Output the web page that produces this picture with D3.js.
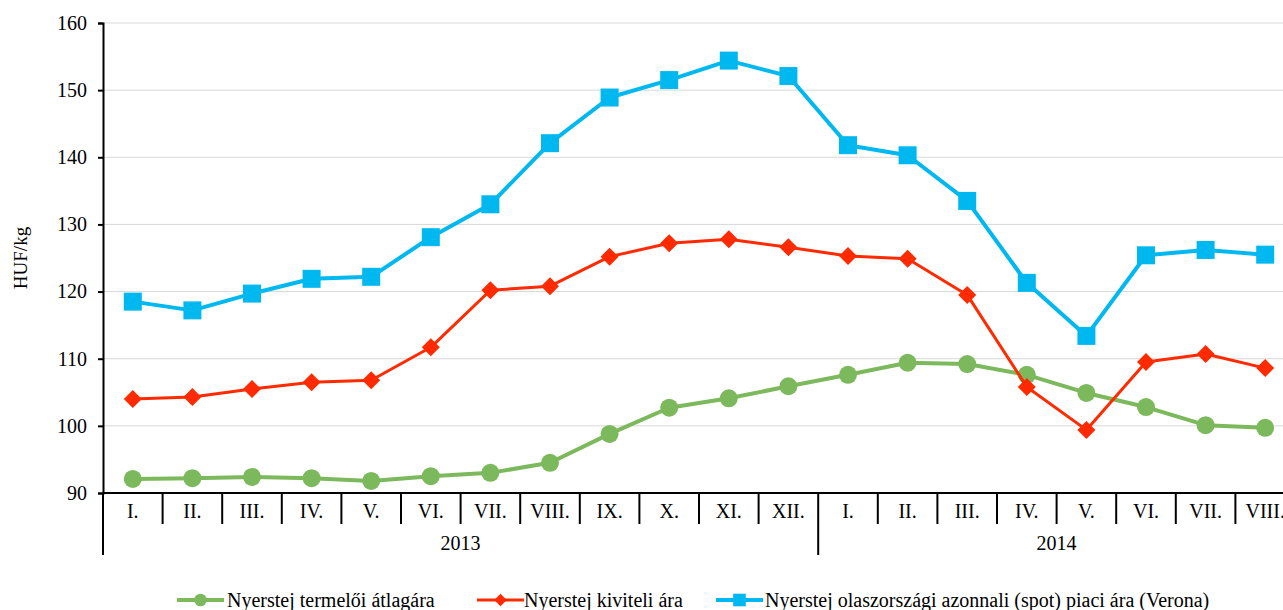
<!DOCTYPE html>
<html>
<head>
<meta charset="utf-8">
<script src="https://cdn.jsdelivr.net/npm/d3@7"></script>
<style>
  body { margin: 0; background: #fff; overflow: hidden; }
  svg text { font-family: "Liberation Serif", "DejaVu Serif", serif; fill: #000; }
</style>
</head>
<body>
<div id="chart"></div>
<script>
// Chart data
const months = ['I.', 'II.', 'III.', 'IV.', 'V.', 'VI.', 'VII.', 'VIII.', 'IX.', 'X.', 'XI.', 'XII.',
                'I.', 'II.', 'III.', 'IV.', 'V.', 'VI.', 'VII.', 'VIII.'];
const years = [{ label: '2013', count: 12 }, { label: '2014', count: 8 }];
const producerPrice = [92.1, 92.2, 92.4, 92.2, 91.8, 92.5, 93.0, 94.5, 98.8, 102.7, 104.1, 105.9,
                       107.6, 109.4, 109.2, 107.6, 104.9, 102.8, 100.1, 99.7];
const exportPrice = [104.0, 104.3, 105.5, 106.5, 106.8, 111.7, 120.2, 120.8, 125.2, 127.2, 127.8, 126.6,
                     125.3, 124.9, 119.5, 105.8, 99.4, 109.5, 110.7, 108.6];
const veronaPrice = [118.5, 117.2, 119.7, 121.9, 122.2, 128.1, 133.0, 142.1, 148.9, 151.5, 154.4, 152.1,
                     141.8, 140.3, 133.5, 121.3, 113.4, 125.4, 126.2, 125.5];
const yTicks = [90, 100, 110, 120, 130, 140, 150, 160];

const width = 1283;
const height = 610;
const serif = '"Liberation Serif", "DejaVu Serif", serif';
const margin = { left: 103, top: 23, bottom: 117 };
const plotRight = 1295; // last category runs past the visible edge

const svg = d3.select('#chart')
    .append('svg')
    .attr('width', width)
    .attr('height', height)
    .attr('font-family', serif);

// Scales
const x = d3.scaleBand()
    .domain(d3.range(months.length))
    .range([margin.left, plotRight]);

const y = d3.scaleLinear()
    .domain([90, 160])
    .range([height - margin.bottom, margin.top]);

const baseY = y(90);

// Gridlines
svg.append('g')
    .selectAll('line')
    .data(yTicks.slice(1))
    .enter()
    .append('line')
    .attr('x1', margin.left)
    .attr('x2', plotRight)
    .attr('y1', d => y(d))
    .attr('y2', d => y(d))
    .attr('stroke', '#d9d9d9')
    .attr('stroke-width', 1);

// Y axis
const yAxis = svg.append('g')
    .attr('transform', `translate(${margin.left},0)`)
    .call(d3.axisLeft(y).tickValues(yTicks).tickSize(5).tickPadding(11))
    .attr('font-family', serif)
    .attr('font-size', 20);
yAxis.select('.domain').attr('stroke', '#000').attr('stroke-width', 2);
yAxis.selectAll('.tick line').attr('stroke', '#000').attr('stroke-width', 2);
yAxis.selectAll('.tick text').attr('fill', '#000');

svg.append('text')
    .attr('transform', `translate(27, ${(margin.top + baseY) / 2}) rotate(-90)`)
    .attr('text-anchor', 'middle')
    .attr('font-size', '19px')
    .text('HUF/kg');

// X axis (baseline + category dividers)
svg.append('line')
    .attr('x1', margin.left)
    .attr('x2', plotRight)
    .attr('y1', baseY)
    .attr('y2', baseY)
    .attr('stroke', '#000')
    .attr('stroke-width', 2);

const yearStarts = [0];
years.forEach((yr, i) => { if (i > 0) yearStarts.push(yearStarts[i - 1] + years[i - 1].count); });

svg.append('g')
    .selectAll('line')
    .data(d3.range(months.length))
    .enter()
    .append('line')
    .attr('x1', d => x(d))
    .attr('x2', d => x(d))
    .attr('y1', baseY)
    .attr('y2', d => yearStarts.includes(d) ? baseY + 62 : baseY + 31)
    .attr('stroke', '#000')
    .attr('stroke-width', 2);

svg.append('g')
    .selectAll('text')
    .data(months)
    .enter()
    .append('text')
    .attr('x', (d, i) => x(i) + x.bandwidth() / 2)
    .attr('y', baseY + 25)
    .attr('text-anchor', 'middle')
    .attr('font-size', '20px')
    .text(d => d);

svg.append('g')
    .selectAll('text')
    .data(years)
    .enter()
    .append('text')
    .attr('x', (d, i) => {
        const start = x(yearStarts[i]);
        const end = x(yearStarts[i] + d.count - 1) + x.bandwidth();
        return (start + end) / 2;
    })
    .attr('y', baseY + 57)
    .attr('text-anchor', 'middle')
    .attr('font-size', '20px')
    .text(d => d.label);

// Series
const series = [
    { name: 'Nyerstej termelői átlagára', values: producerPrice, color: '#7cb85c', width: 4, marker: 'circle' },
    { name: 'Nyerstej kiviteli ára', values: exportPrice, color: '#ff2a00', width: 3, marker: 'diamond' },
    { name: 'Nyerstej olaszországi azonnali (spot) piaci ára (Verona)', values: veronaPrice, color: '#00b8f0', width: 4, marker: 'square' }
];

const line = d3.line()
    .x((d, i) => x(i) + x.bandwidth() / 2)
    .y(d => y(d));

function drawMarker(g, type, color, cx, cy, scale) {
    if (type === 'circle') {
        g.append('circle').attr('cx', cx).attr('cy', cy).attr('r', 9 * scale).attr('fill', color);
    } else if (type === 'square') {
        const s = 18 * scale;
        g.append('rect').attr('x', cx - s / 2).attr('y', cy - s / 2).attr('width', s).attr('height', s).attr('fill', color);
    } else {
        const r = 9 * scale;
        g.append('path')
            .attr('d', `M${cx},${cy - r}L${cx + r},${cy}L${cx},${cy + r}L${cx - r},${cy}Z`)
            .attr('fill', color);
    }
}

series.forEach(s => {
    const g = svg.append('g');
    g.append('path')
        .datum(s.values)
        .attr('d', line)
        .attr('fill', 'none')
        .attr('stroke', s.color)
        .attr('stroke-width', s.width)
        .attr('stroke-linejoin', 'round');
    s.values.forEach((v, i) => drawMarker(g, s.marker, s.color, x(i) + x.bandwidth() / 2, y(v), 1));
});

// Legend
const legendItems = [
    { x: 177, textX: 227 },
    { x: 477, textX: 524 },
    { x: 716, textX: 765 }
];
const legendY = 600;
series.forEach((s, i) => {
    const g = svg.append('g');
    const x0 = legendItems[i].x;
    g.append('line')
        .attr('x1', x0).attr('x2', x0 + 47)
        .attr('y1', legendY).attr('y2', legendY)
        .attr('stroke', s.color).attr('stroke-width', s.width);
    drawMarker(g, s.marker, s.color, x0 + 23.5, legendY, 0.7);
    g.append('text')
        .attr('x', legendItems[i].textX)
        .attr('y', legendY + 7)
        .attr('font-size', '20px')
        .text(s.name);
});
</script>
</body>
</html>
